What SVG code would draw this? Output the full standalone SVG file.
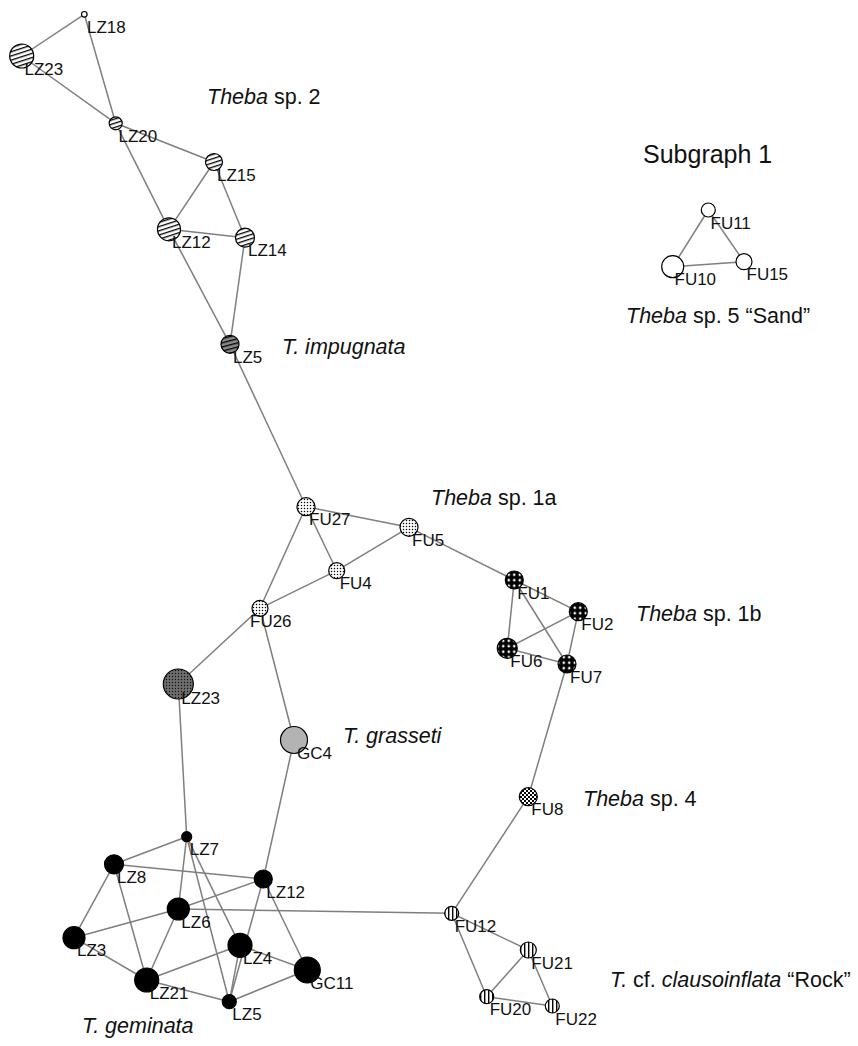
<svg xmlns="http://www.w3.org/2000/svg" width="858" height="1046" viewBox="0 0 858 1046">
<defs>
<pattern id="pStripeH" patternUnits="userSpaceOnUse" width="4" height="4" patternTransform="rotate(-18)">
<rect width="4" height="4" fill="#fff"/><rect y="0" width="4" height="1.3" fill="#000"/>
</pattern>
<pattern id="pStripeGray" patternUnits="userSpaceOnUse" width="4" height="4" patternTransform="rotate(-15)">
<rect width="4" height="4" fill="#8a8a8a"/><rect y="0" width="4" height="1.3" fill="#000"/>
</pattern>
<pattern id="pDots" patternUnits="userSpaceOnUse" width="3" height="3">
<rect width="3" height="3" fill="#fff"/><circle cx="1.5" cy="1.5" r="0.75" fill="#000"/>
</pattern>
<pattern id="pDotsDark" patternUnits="userSpaceOnUse" width="3" height="3">
<rect width="3" height="3" fill="#6e6e6e"/><circle cx="1.5" cy="1.5" r="0.7" fill="#111"/>
</pattern>
<pattern id="pWhiteDots" patternUnits="userSpaceOnUse" width="5.5" height="5.5">
<rect width="5.5" height="5.5" fill="#000"/><circle cx="2.75" cy="2.75" r="1.3" fill="#fff"/>
</pattern>
<pattern id="pChecker" patternUnits="userSpaceOnUse" width="4" height="4">
<rect width="4" height="4" fill="#fff"/><rect width="2" height="2" fill="#000"/><rect x="2" y="2" width="2" height="2" fill="#000"/>
</pattern>
<pattern id="pStripeV" patternUnits="userSpaceOnUse" width="4" height="4">
<rect width="4" height="4" fill="#fff"/><rect x="0" width="1.4" height="4" fill="#000"/>
</pattern>
</defs>
<style>
.e{stroke:#7f7f7f;stroke-width:1.5;fill:none}
.n{stroke:#000;stroke-width:1.2}
.lbl{font-family:"Liberation Sans",Arial,sans-serif;font-size:17px;fill:#111}
.sp{font-family:"Liberation Sans",Arial,sans-serif;font-size:21.5px;fill:#111}
.big{font-size:25px}
.it{font-style:italic}
.sh{fill:url(#pStripeH)}
.sg{fill:url(#pStripeGray)}
.dt{fill:url(#pDots)}
.dd{fill:url(#pDotsDark)}
.wd{fill:url(#pWhiteDots)}
.ck{fill:url(#pChecker)}
.sv{fill:url(#pStripeV)}
.bk{fill:#000}
.gy{fill:#b3b3b3}
.wh{fill:#fff}
</style>
<rect width="858" height="1046" fill="#fff"/>
<g id="connectors">
<line class="e" x1="84.3" y1="14.3" x2="21.7" y2="56"/>
<line class="e" x1="84.3" y1="14.3" x2="115.7" y2="123.3"/>
<line class="e" x1="21.7" y1="56" x2="115.7" y2="123.3"/>
<line class="e" x1="115.7" y1="123.3" x2="214" y2="162"/>
<line class="e" x1="115.7" y1="123.3" x2="169" y2="229.3"/>
<line class="e" x1="214" y1="162" x2="169" y2="229.3"/>
<line class="e" x1="214" y1="162" x2="245" y2="237.7"/>
<line class="e" x1="169" y1="229.3" x2="245" y2="237.7"/>
<line class="e" x1="169" y1="229.3" x2="230" y2="344.3"/>
<line class="e" x1="245" y1="237.7" x2="230" y2="344.3"/>
<line class="e" x1="230" y1="344.3" x2="306" y2="506.7"/>
<line class="e" x1="306" y1="506.7" x2="409" y2="527.3"/>
<line class="e" x1="306" y1="506.7" x2="336.7" y2="570.7"/>
<line class="e" x1="306" y1="506.7" x2="260" y2="608.3"/>
<line class="e" x1="409" y1="527.3" x2="336.7" y2="570.7"/>
<line class="e" x1="336.7" y1="570.7" x2="260" y2="608.3"/>
<line class="e" x1="409" y1="527.3" x2="514.3" y2="580"/>
<line class="e" x1="514.3" y1="580" x2="578.3" y2="611.7"/>
<line class="e" x1="514.3" y1="580" x2="507.3" y2="648.3"/>
<line class="e" x1="514.3" y1="580" x2="567" y2="664"/>
<line class="e" x1="578.3" y1="611.7" x2="507.3" y2="648.3"/>
<line class="e" x1="578.3" y1="611.7" x2="567" y2="664"/>
<line class="e" x1="507.3" y1="648.3" x2="567" y2="664"/>
<line class="e" x1="567" y1="664" x2="528.3" y2="796.7"/>
<line class="e" x1="528.3" y1="796.7" x2="451.7" y2="913.3"/>
<line class="e" x1="260" y1="608.3" x2="178.3" y2="684"/>
<line class="e" x1="260" y1="608.3" x2="294" y2="740"/>
<line class="e" x1="178.3" y1="684" x2="186.7" y2="836.7"/>
<line class="e" x1="294" y1="740" x2="263.3" y2="879"/>
<line class="e" x1="186.7" y1="836.7" x2="114" y2="864.3"/>
<line class="e" x1="186.7" y1="836.7" x2="178.3" y2="909"/>
<line class="e" x1="186.7" y1="836.7" x2="229.3" y2="1001.7"/>
<line class="e" x1="186.7" y1="836.7" x2="240" y2="945.3"/>
<line class="e" x1="114" y1="864.3" x2="263.3" y2="879"/>
<line class="e" x1="114" y1="864.3" x2="74" y2="937.7"/>
<line class="e" x1="114" y1="864.3" x2="146.7" y2="980"/>
<line class="e" x1="263.3" y1="879" x2="178.3" y2="909"/>
<line class="e" x1="263.3" y1="879" x2="229.3" y2="1001.7"/>
<line class="e" x1="263.3" y1="879" x2="307.3" y2="970"/>
<line class="e" x1="178.3" y1="909" x2="74" y2="937.7"/>
<line class="e" x1="178.3" y1="909" x2="146.7" y2="980"/>
<line class="e" x1="178.3" y1="909" x2="451.7" y2="913.3"/>
<line class="e" x1="74" y1="937.7" x2="146.7" y2="980"/>
<line class="e" x1="146.7" y1="980" x2="240" y2="945.3"/>
<line class="e" x1="146.7" y1="980" x2="229.3" y2="1001.7"/>
<line class="e" x1="240" y1="945.3" x2="307.3" y2="970"/>
<line class="e" x1="240" y1="945.3" x2="229.3" y2="1001.7"/>
<line class="e" x1="307.3" y1="970" x2="229.3" y2="1001.7"/>
<line class="e" x1="451.7" y1="913.3" x2="528.3" y2="950"/>
<line class="e" x1="451.7" y1="913.3" x2="486.7" y2="996.7"/>
<line class="e" x1="528.3" y1="950" x2="486.7" y2="996.7"/>
<line class="e" x1="528.3" y1="950" x2="552.3" y2="1006"/>
<line class="e" x1="486.7" y1="996.7" x2="552.3" y2="1006"/>
<line class="e" x1="708.3" y1="210" x2="672.7" y2="266.7"/>
<line class="e" x1="708.3" y1="210" x2="744" y2="261.7"/>
<line class="e" x1="672.7" y1="266.7" x2="744" y2="261.7"/>
</g>
<g id="node-LZ18-sp2"><circle class="n wh" cx="84.3" cy="14.3" r="2.8"/><text class="lbl" x="87" y="33">LZ18</text></g>
<g id="node-LZ23-sp2"><circle class="n sh" cx="21.7" cy="56" r="12"/><text class="lbl" x="24.5" y="74.5">LZ23</text></g>
<g id="node-LZ20"><circle class="n sh" cx="115.7" cy="123.3" r="6.5"/><text class="lbl" x="118.5" y="141.8">LZ20</text></g>
<g id="node-LZ15"><circle class="n sh" cx="214" cy="162" r="8.5"/><text class="lbl" x="217" y="180.5">LZ15</text></g>
<g id="node-LZ12-sp2"><circle class="n sh" cx="169" cy="229.3" r="11.5"/><text class="lbl" x="172" y="247.8">LZ12</text></g>
<g id="node-LZ14"><circle class="n sh" cx="245" cy="237.7" r="9.5"/><text class="lbl" x="248" y="256.2">LZ14</text></g>
<g id="node-LZ5-impugnata"><circle class="n sg" cx="230" cy="344.3" r="9"/><text class="lbl" x="233" y="362.8">LZ5</text></g>
<g id="node-FU27"><circle class="n dt" cx="306" cy="506.7" r="9"/><text class="lbl" x="309" y="525.2">FU27</text></g>
<g id="node-FU5"><circle class="n dt" cx="409" cy="527.3" r="9"/><text class="lbl" x="412" y="545.8">FU5</text></g>
<g id="node-FU4"><circle class="n dt" cx="336.7" cy="570.7" r="8"/><text class="lbl" x="339.7" y="589.2">FU4</text></g>
<g id="node-FU26"><circle class="n dt" cx="260" cy="608.3" r="8"/><text class="lbl" x="250" y="626.8">FU26</text></g>
<g id="node-FU1"><circle class="n wd" cx="514.3" cy="580" r="9"/><text class="lbl" x="517.3" y="598.5">FU1</text></g>
<g id="node-FU2"><circle class="n wd" cx="578.3" cy="611.7" r="9"/><text class="lbl" x="581.3" y="630.2">FU2</text></g>
<g id="node-FU6"><circle class="n wd" cx="507.3" cy="648.3" r="10"/><text class="lbl" x="510.3" y="666.8">FU6</text></g>
<g id="node-FU7"><circle class="n wd" cx="567" cy="664" r="9"/><text class="lbl" x="570" y="682.5">FU7</text></g>
<g id="node-LZ23-b"><circle class="n dd" cx="178.3" cy="684" r="15"/><text class="lbl" x="181.3" y="703.5">LZ23</text></g>
<g id="node-GC4"><circle class="n gy" cx="294" cy="740" r="13.5"/><text class="lbl" x="297" y="758.5">GC4</text></g>
<g id="node-FU8"><circle class="n ck" cx="528.3" cy="796.7" r="9"/><text class="lbl" x="531.3" y="815.2">FU8</text></g>
<g id="node-LZ7"><circle class="n bk" cx="186.7" cy="836.7" r="5"/><text class="lbl" x="189.7" y="855.2">LZ7</text></g>
<g id="node-LZ8"><circle class="n bk" cx="114" cy="864.3" r="9.5"/><text class="lbl" x="117" y="882.8">LZ8</text></g>
<g id="node-LZ12-b"><circle class="n bk" cx="263.3" cy="879" r="9"/><text class="lbl" x="266.3" y="897.5">LZ12</text></g>
<g id="node-LZ6"><circle class="n bk" cx="178.3" cy="909" r="11"/><text class="lbl" x="181.3" y="927.5">LZ6</text></g>
<g id="node-LZ3"><circle class="n bk" cx="74" cy="937.7" r="11"/><text class="lbl" x="77" y="956.2">LZ3</text></g>
<g id="node-LZ4"><circle class="n bk" cx="240" cy="945.3" r="12"/><text class="lbl" x="243" y="963.8">LZ4</text></g>
<g id="node-GC11"><circle class="n bk" cx="307.3" cy="970" r="13"/><text class="lbl" x="310.3" y="988.5">GC11</text></g>
<g id="node-LZ21"><circle class="n bk" cx="146.7" cy="980" r="12"/><text class="lbl" x="149.7" y="998.5">LZ21</text></g>
<g id="node-LZ5-b"><circle class="n bk" cx="229.3" cy="1001.7" r="7"/><text class="lbl" x="232.3" y="1020.2">LZ5</text></g>
<g id="node-FU12"><circle class="n sv" cx="451.7" cy="913.3" r="7"/><text class="lbl" x="454.7" y="931.8">FU12</text></g>
<g id="node-FU21"><circle class="n sv" cx="528.3" cy="950" r="8"/><text class="lbl" x="531.3" y="968.5">FU21</text></g>
<g id="node-FU20"><circle class="n sv" cx="486.7" cy="996.7" r="7"/><text class="lbl" x="489.7" y="1015.2">FU20</text></g>
<g id="node-FU22"><circle class="n sv" cx="552.3" cy="1006" r="7"/><text class="lbl" x="555.3" y="1024.5">FU22</text></g>
<g id="node-FU11"><circle class="n wh" cx="708.3" cy="210" r="7"/><text class="lbl" x="710.5" y="228.5">FU11</text></g>
<g id="node-FU10"><circle class="n wh" cx="672.7" cy="266.7" r="11"/><text class="lbl" x="674.5" y="285.2">FU10</text></g>
<g id="node-FU15"><circle class="n wh" cx="744" cy="261.7" r="8"/><text class="lbl" x="746.5" y="280.2">FU15</text></g>
<g id="labels">
<text class="sp" x="207" y="104"><tspan class="it">Theba</tspan> sp. 2</text>
<text class="sp it" x="282" y="354">T. impugnata</text>
<text class="sp" x="431" y="505"><tspan class="it">Theba</tspan> sp. 1a</text>
<text class="sp" x="636" y="621"><tspan class="it">Theba</tspan> sp. 1b</text>
<text class="sp it" x="343" y="743">T. grasseti</text>
<text class="sp" x="583" y="806"><tspan class="it">Theba</tspan> sp. 4</text>
<text class="sp" x="610" y="987"><tspan class="it">T.</tspan> cf. <tspan class="it">clausoinflata</tspan> “Rock”</text>
<text class="sp it" x="82" y="1033">T. geminata</text>
<text class="sp big" x="643" y="163">Subgraph 1</text>
<text class="sp" x="626" y="323"><tspan class="it">Theba</tspan> sp. 5 “Sand”</text>
</g>
</svg>
